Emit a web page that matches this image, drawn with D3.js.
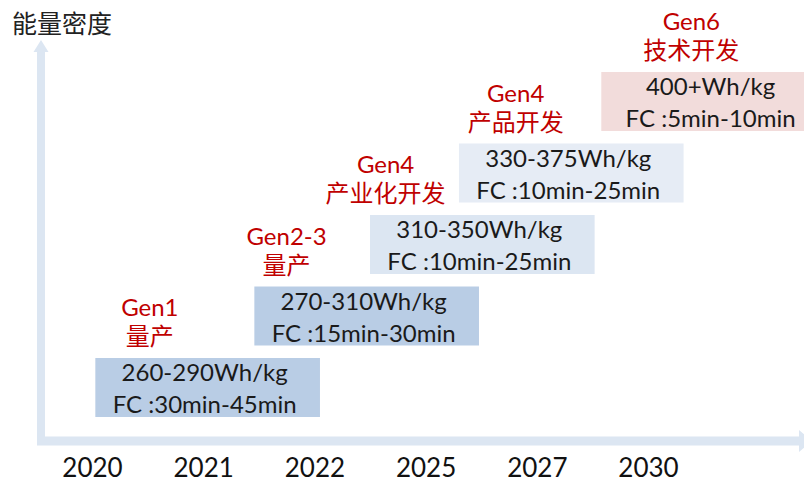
<!DOCTYPE html>
<html>
<head>
<meta charset="utf-8">
<script src="https://cdn.jsdelivr.net/npm/d3@7"></script>
<style>
  body { margin: 0; background: #fff; }
  text { font-family: Lato, "Noto Sans CJK SC", sans-serif; }
</style>
</head>
<body>
<div id="chart-container"></div>
<script>
// roadmap chart: battery generations stepping up in energy density over time
const svgWidth = 804;
const svgHeight = 483;

// tick labels along the timeline
const years = ["2020", "2021", "2022", "2025", "2027", "2030"];
// one entry per generation
const gens = ["Gen1", "Gen2-3", "Gen4", "Gen4", "Gen6"];
const phases = ["量产", "量产", "产业化开发", "产品开发", "技术开发"];
const energy = ["260-290Wh/kg", "270-310Wh/kg", "310-350Wh/kg", "330-375Wh/kg", "400+Wh/kg"];
const charge = ["FC :30min-45min", "FC :15min-30min", "FC :10min-25min", "FC :10min-25min", "FC :5min-10min"];
// where each box / label sits on the timeline (in year-slot units)
const boxSlot = [1.04, 2.47, 3.51, 4.31, 5.59];
const labelSlot = [0.52, 1.75, 2.64, 3.81, 5.39];

const svg = d3.select("#chart-container")
    .append("svg")
    .attr("width", svgWidth)
    .attr("height", svgHeight);

const x = d3.scaleLinear()
    .domain([0, years.length - 1])
    .range([92, 648]);

// box tops, one step per generation
const y = d3.scalePoint()
    .domain(d3.range(gens.length))
    .range([358, 72]);

const boxSpan = 2.02; // box width in slot units
const boxH = 59;

const colorScale = d3.scaleOrdinal()
    .domain(d3.range(gens.length))
    .range(["#b9cde5", "#b9cde5", "#dce6f2", "#e6ecf5", "#f2dcdb"]);

// axis arrows
const axisColor = "#dce6f2";
svg.append("line")
    .attr("x1", 41).attr("y1", 445)
    .attr("x2", 41).attr("y2", 50)
    .attr("stroke", axisColor).attr("stroke-width", 8);
svg.append("path")
    .attr("d", "M33.5,52 L41,40 L48.5,52 Z")
    .attr("fill", axisColor);
svg.append("line")
    .attr("x1", 37).attr("y1", 441)
    .attr("x2", 800).attr("y2", 441)
    .attr("stroke", axisColor).attr("stroke-width", 9);
svg.append("path")
    .attr("d", "M799,430 L812,441 L799,452 Z")
    .attr("fill", axisColor);

// y title
svg.append("text")
    .text("能量密度")
    .attr("x", 12)
    .attr("y", 33)
    .attr("font-size", 25)
    .attr("fill", "#222");

// year labels via axis
const xAxis = svg.append("g")
    .attr("transform", "translate(0,477)")
    .call(d3.axisBottom(x)
        .tickValues(d3.range(years.length))
        .tickFormat(i => years[i])
        .tickSize(0)
        .tickPadding(0));
xAxis.select(".domain").remove();
xAxis.selectAll("text")
    .attr("y", 0)
    .attr("dy", 0)
    .attr("font-size", 26)
    .attr("font-family", "Lato, sans-serif")
    .attr("fill", "#111");

const stages = svg.selectAll(".stage")
    .data(d3.range(gens.length))
    .enter()
    .append("g")
    .attr("class", "stage");

stages.append("rect")
    .attr("x", i => x(boxSlot[i] - boxSpan / 2))
    .attr("y", i => y(i))
    .attr("width", i => x(boxSlot[i] + boxSpan / 2) - x(boxSlot[i] - boxSpan / 2))
    .attr("height", boxH)
    .attr("fill", i => colorScale(i));

stages.append("text")
    .text(i => energy[i])
    .attr("x", i => x(boxSlot[i]) - 3)
    .attr("y", i => y(i) + 23)
    .attr("text-anchor", "middle")
    .attr("font-size", 24)
    .attr("fill", "#1a1a1a");

stages.append("text")
    .text(i => charge[i])
    .attr("x", i => x(boxSlot[i]) - 3)
    .attr("y", i => y(i) + 55)
    .attr("text-anchor", "middle")
    .attr("font-size", 24)
    .attr("fill", "#1a1a1a");

// red generation labels above each box
stages.append("text")
    .text(i => gens[i])
    .attr("x", i => x(labelSlot[i]))
    .attr("y", i => y(i) - 42)
    .attr("text-anchor", "middle")
    .attr("font-size", 24)
    .attr("fill", "#c00000");

stages.append("text")
    .text(i => phases[i])
    .attr("x", i => x(labelSlot[i]))
    .attr("y", i => y(i) - 13)
    .attr("text-anchor", "middle")
    .attr("font-size", 24)
    .attr("font-family", "'Noto Sans CJK SC', sans-serif")
    .attr("fill", "#c00000");
</script>
</body>
</html>
